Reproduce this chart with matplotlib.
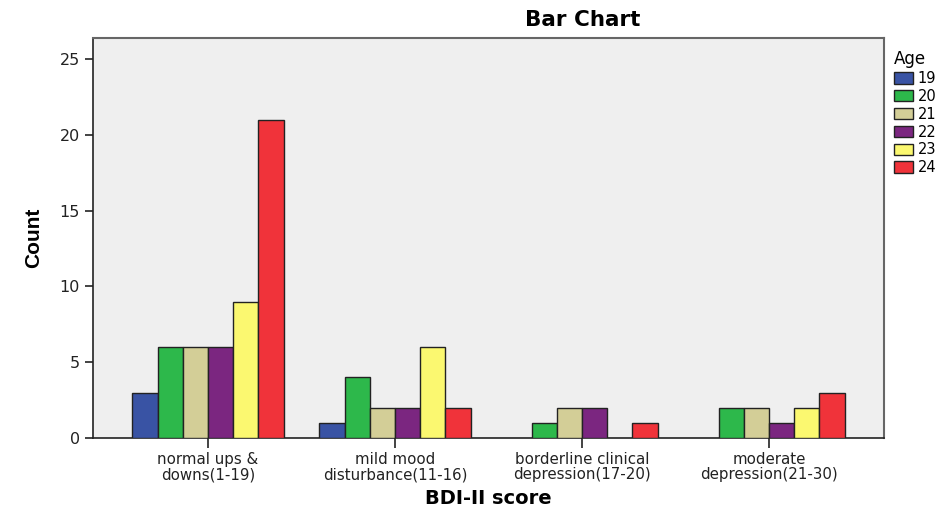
import numpy as np
import matplotlib.pyplot as plt

plt.rcParams['font.family'] = ['DejaVu Sans']

categories = ['normal ups &\ndowns(1-19)', 'mild mood\ndisturbance(11-16)',
              'borderline clinical\ndepression(17-20)', 'moderate\ndepression(21-30)']
ages = ['19', '20', '21', '22', '23', '24']
counts = {
    '19': [3, 1, 0, 0],
    '20': [6, 4, 1, 2],
    '21': [6, 2, 2, 2],
    '22': [6, 2, 2, 1],
    '23': [9, 6, 0, 2],
    '24': [21, 2, 1, 3],
}
colors = ['#3953a4', '#2db84b', '#d3ce97', '#7b2680', '#fbf870', '#f0333a']

fig = plt.figure(figsize=(9.47, 5.12), dpi=100)
ax = fig.add_axes([93/947, 74/512, 791/947, 400/512])
ax.set_facecolor('#efefef')

x = np.arange(len(categories))
w = 0.135
for i, a in enumerate(ages):
    vals = np.array(counts[a])
    pos = x + (i - 2.5) * w
    mask = vals > 0
    ax.bar(pos[mask], vals[mask], width=w, color=colors[i], edgecolor='#222222',
           linewidth=1.0, label=a, zorder=3)

ax.set_xlim(-0.615, 3.615)
ax.set_ylim(0, 26.4)
ax.set_yticks([0, 5, 10, 15, 20, 25])
ax.set_xticks(x)
ax.set_xticklabels(categories, fontsize=10.8, color='#222222', linespacing=1.05)
ax.tick_params(axis='y', labelsize=11.5, colors='#222222', length=6, width=1.2)
ax.tick_params(axis='x', length=7, width=1.2, colors='#222222', pad=3)
for s in ['left', 'bottom']:
    ax.spines[s].set_color('#222222')
    ax.spines[s].set_linewidth(1.2)
for s in ['top', 'right']:
    ax.spines[s].set_color('#666666')
    ax.spines[s].set_linewidth(1.5)

ax.set_xlabel('BDI-II score', fontsize=14, fontweight='bold', labelpad=5)
ax.set_ylabel('Count', fontsize=15, fontweight='bold', labelpad=12, family='Liberation Sans')
fig.text(583/947, 1 - 20/512, 'Bar Chart', fontsize=15.5, fontweight='bold', ha='center', va='center')

leg = ax.legend(title='Age', loc='upper left', bbox_to_anchor=(1.005, 0.985), frameon=False,
                fontsize=10.5, title_fontsize=12, handlelength=1.3, handleheight=0.85,
                handletextpad=0.35, labelspacing=0.2, borderaxespad=0)
leg._legend_box.align = 'left'

fig.savefig('out.png', dpi=100)
